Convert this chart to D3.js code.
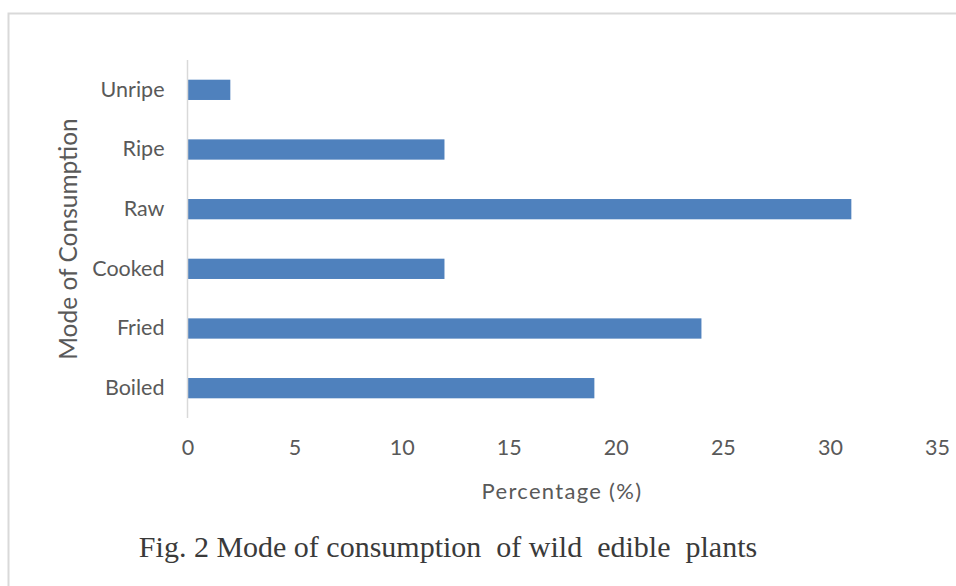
<!DOCTYPE html>
<html>
<head>
<meta charset="utf-8">
<script src="https://cdn.jsdelivr.net/npm/d3@7"></script>
<style>
  html, body { margin: 0; padding: 0; background: #fff; }
  svg { display: block; }
</style>
</head>
<body>
<svg id="chart" width="956" height="586"></svg>
<script>
// Modes of consumption, listed bottom to top as drawn
const categories = ["Boiled", "Fried", "Cooked", "Raw", "Ripe", "Unripe"];
const percentages = [19, 24, 12, 31, 12, 2];
const xTicks = [0, 5, 10, 15, 20, 25, 30, 35];

const svg = d3.select("#chart");
const labelFont = "Lato, 'Open Sans', sans-serif";
const textColor = "#595959";

// Chart frame
svg.append("rect")
  .attr("x", 8.5).attr("y", 13.5)
  .attr("width", 960).attr("height", 600)
  .attr("fill", "none")
  .attr("stroke", "#d9d9d9")
  .attr("stroke-width", 2);

const plot = { left: 187.5, right: 937, top: 60, bottom: 418 };

const x = d3.scaleLinear().domain([0, 35]).range([plot.left, plot.right]);
const y = d3.scaleBand()
  .domain(categories.slice().reverse())
  .range([plot.top, plot.bottom])
  .paddingInner(0.66)
  .paddingOuter(0.33);

// Bars
svg.append("g")
  .selectAll("rect")
  .data(categories.map((c, i) => ({ c, v: percentages[i] })))
  .join("rect")
  .attr("x", x(0))
  .attr("y", d => y(d.c))
  .attr("width", d => x(d.v) - x(0))
  .attr("height", y.bandwidth())
  .attr("fill", "#4f81bd");

// Category axis
const yAxis = svg.append("g")
  .attr("transform", `translate(${plot.left},0)`)
  .call(d3.axisLeft(y).tickSize(0).tickPadding(23));
yAxis.select(".domain").attr("stroke", "#d9d9d9").attr("stroke-width", 1.5)
  .attr("d", `M0,${plot.top}V${plot.bottom}`);
yAxis.selectAll("text")
  .attr("font-family", labelFont)
  .attr("font-size", 21.5)
  .attr("fill", textColor);

// Value axis (labels only)
const xAxis = svg.append("g")
  .attr("transform", `translate(0,${plot.bottom})`)
  .call(d3.axisBottom(x).tickValues(xTicks).tickSize(0).tickPadding(22));
xAxis.select(".domain").remove();
xAxis.selectAll("text")
  .attr("font-family", labelFont)
  .attr("font-size", 21.5)
  .attr("fill", textColor);

// Axis titles
svg.append("text")
  .attr("x", 562).attr("y", 499)
  .attr("text-anchor", "middle")
  .attr("font-family", labelFont)
  .attr("font-size", 22)
  .attr("letter-spacing", 1.3)
  .attr("fill", textColor)
  .text("Percentage (%)");

svg.append("text")
  .attr("transform", "translate(77,239) rotate(-90)")
  .attr("text-anchor", "middle")
  .attr("font-family", labelFont)
  .attr("font-size", 24.5)
  .attr("fill", textColor)
  .text("Mode of Consumption");

// Figure caption
svg.append("text")
  .attr("x", 448).attr("y", 557)
  .attr("text-anchor", "middle")
  .attr("font-family", "'Liberation Serif', 'DejaVu Serif', serif")
  .attr("font-size", 30)
  .attr("fill", "#3a3a3a")
  .style("white-space", "pre")
  .text("Fig. 2 Mode of consumption  of wild  edible  plants");
</script>
</body>
</html>
